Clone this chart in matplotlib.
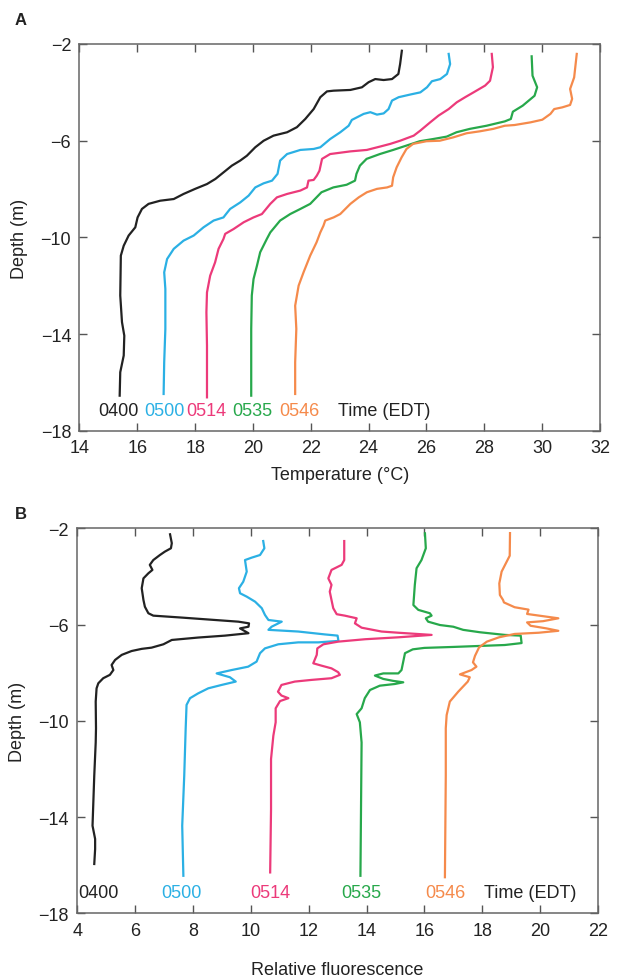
import matplotlib
matplotlib.use("Agg")
import matplotlib.pyplot as plt

plt.rcParams['font.family'] = ['Liberation Sans', 'DejaVu Sans']

times = ['0400', '0500', '0514', '0535', '0546']
colors = ['#222222', '#2bb0e4', '#ec3a7a', '#27a84b', '#f58a4b']

# ---- panel A: temperature profiles (depth m, temp C)
temp_depth = [
    [-2.28, -2.83, -3.24, -3.45, -3.49, -3.45, -3.58, -3.79, -3.90, -3.93, -3.96, -4.20,
     -4.69, -5.10, -5.44, -5.65, -5.79, -6.00, -6.27, -6.62, -6.82, -7.03, -7.31, -7.58,
     -7.79, -7.99, -8.20, -8.41, -8.48, -8.61, -8.82, -9.17, -9.58, -9.92, -10.34, -10.75,
     -12.4, -13.5, -14.06, -14.88, -15.57, -16.54],
    [-2.41, -2.83, -3.24, -3.45, -3.54, -3.79, -4.0, -4.09, -4.20, -4.34, -4.69, -4.87,
     -4.92, -4.82, -4.89, -5.03, -5.14, -5.38, -5.65, -5.93, -6.27, -6.34, -6.38, -6.55,
     -6.82, -7.37, -7.65, -7.76, -7.93, -8.27, -8.55, -8.82, -9.03, -9.17, -9.30, -9.58,
     -9.92, -10.13, -10.47, -10.89, -11.44, -12.13, -13.78, -15.16, -16.47],
    [-2.41, -2.96, -3.52, -3.72, -4.0, -4.2, -4.41, -4.69, -4.96, -5.24, -5.58, -5.79,
     -6.0, -6.13, -6.24, -6.38, -6.44, -6.55, -6.75, -7.24, -7.44, -7.62, -7.65, -7.93,
     -8.06, -8.2, -8.34, -8.61, -9.03, -9.17, -9.37, -9.65, -9.85, -10.06, -10.47, -11.03,
     -11.58, -12.27, -13.09, -14.47, -16.61],
    [-2.51, -3.31, -3.79, -4.14, -4.55, -4.8, -5.1, -5.2, -5.38, -5.51, -5.65, -5.83,
     -5.93, -6.02, -6.2, -6.38, -6.55, -6.75, -7.03, -7.37, -7.65, -7.82, -7.93, -8.13,
     -8.61, -8.82, -9.03, -9.3, -9.79, -10.06, -10.61, -11.16, -11.72, -12.4, -13.78, -16.54],
    [-2.41, -3.38, -3.86, -4.27, -4.52, -4.62, -4.69, -4.89, -5.13, -5.24, -5.35, -5.38,
     -5.51, -5.61, -5.69, -5.86, -6.0, -6.02, -6.13, -6.34, -6.69, -7.1, -7.51, -7.86,
     -7.93, -7.99, -8.13, -8.34, -8.61, -9.03, -9.17, -9.3, -9.51, -9.79, -10.2, -10.75,
     -11.44, -11.99, -12.82, -13.78, -15.16, -16.47],
]
temp_vals = [
    [25.15, 25.09, 25.03, 24.81, 24.52, 24.23, 24.0, 23.77, 23.37, 22.79, 22.56, 22.33,
     22.1, 21.81, 21.52, 21.18, 20.71, 20.37, 20.08, 19.79, 19.56, 19.27, 18.98, 18.7,
     18.41, 18.0, 17.6, 17.26, 16.79, 16.39, 16.16, 16.01, 15.93, 15.70, 15.53, 15.43,
     15.41, 15.47, 15.55, 15.53, 15.41, 15.39],
    [26.77, 26.82, 26.71, 26.48, 26.19, 26.02, 25.79, 25.44, 25.04, 24.81, 24.69, 24.52,
     24.29, 24.06, 23.83, 23.6, 23.42, 23.31, 23.02, 22.67, 22.33, 22.1, 21.64, 21.18,
     20.94, 20.85, 20.66, 20.37, 20.08, 19.85, 19.56, 19.21, 19.07, 18.98, 18.64, 18.29,
     17.95, 17.6, 17.26, 17.03, 16.93, 16.97, 16.97, 16.93, 16.91],
    [28.26, 28.3, 28.2, 28.03, 27.63, 27.34, 27.05, 26.77, 26.42, 26.13, 25.79, 25.56,
     25.09, 24.75, 24.4, 23.94, 23.37, 22.67, 22.39, 22.3, 22.21, 22.1, 21.92, 21.87,
     21.64, 21.18, 20.83, 20.6, 20.31, 20.02, 19.68, 19.33, 19.04, 18.98, 18.81, 18.69,
     18.52, 18.41, 18.39, 18.41, 18.41],
    [29.64, 29.67, 29.83, 29.74, 29.33, 28.99, 28.92, 28.71, 28.08, 27.5, 27.04, 26.7,
     26.23, 25.77, 25.31, 24.85, 24.39, 23.93, 23.7, 23.58, 23.53, 23.24, 22.78, 22.37,
     21.98, 21.64, 21.29, 20.94, 20.6, 20.48, 20.25, 20.14, 20.02, 19.96, 19.94, 19.94],
    [31.2, 31.11, 30.97, 31.04, 30.97, 30.7, 30.42, 30.29, 30.01, 29.6, 29.05, 28.71,
     28.31, 27.85, 27.39, 26.93, 26.46, 26.0, 25.54, 25.31, 25.14, 24.97, 24.85, 24.81,
     24.64, 24.29, 23.94, 23.66, 23.37, 23.02, 22.79, 22.5, 22.44, 22.33, 22.2, 21.98,
     21.75, 21.58, 21.46, 21.5, 21.46, 21.46],
]
temp_label_x = [15.36, 16.94, 18.4, 19.99, 21.59]

# ---- panel B: fluorescence profiles
fl_depth = [
    [-2.25, -2.62, -2.83, -2.97, -3.11, -3.32, -3.52, -3.73, -3.87, -4.08, -4.49, -4.98,
     -5.26, -5.53, -5.63, -5.71, -5.81, -5.88, -5.95, -6.09, -6.16, -6.36, -6.46, -6.54,
     -6.64, -6.82, -6.96, -7.01, -7.10, -7.26, -7.47, -7.68, -7.89, -8.09, -8.23, -8.44,
     -8.65, -9.2, -10.31, -10.9, -12.28, -14.36, -14.91, -15.33, -15.95],
    [-2.53, -2.83, -3.11, -3.22, -3.32, -3.8, -4.22, -4.49, -4.7, -4.84, -5.05, -5.32,
     -5.6, -5.81, -5.88, -6.09, -6.22, -6.29, -6.41, -6.46, -6.68, -6.74, -6.74, -6.82,
     -6.99, -7.19, -7.54, -7.75, -7.89, -8.03, -8.19, -8.37, -8.51, -8.65, -8.86, -9.06,
     -9.34, -10.31, -12.28, -14.36, -16.44],
    [-2.53, -3.32, -3.52, -3.73, -4.08, -4.35, -4.63, -4.98, -5.32, -5.57, -5.63, -5.74,
     -5.95, -6.13, -6.29, -6.34, -6.43, -6.53, -6.61, -6.71, -6.82, -6.99, -7.26, -7.61,
     -7.71, -7.82, -7.98, -8.09, -8.23, -8.3, -8.37, -8.51, -8.79, -8.95, -9.06, -9.18,
     -9.48, -10.06, -10.62, -11.59, -13.67, -16.3],
    [-2.21, -2.83, -3.32, -3.66, -4.35, -5.19, -5.39, -5.53, -5.63, -5.74, -5.88, -6.02,
     -6.09, -6.22, -6.32, -6.43, -6.46, -6.77, -6.85, -6.93, -6.97, -7.03, -7.19, -7.54,
     -7.89, -8.03, -8.03, -8.12, -8.26, -8.34, -8.4, -8.47, -8.54, -8.72, -9.06, -9.48,
     -9.72, -10.06, -10.9, -13.67, -16.44],
    [-2.2, -3.14, -3.8, -4.29, -4.77, -4.98, -5.08, -5.28, -5.38, -5.56, -5.66, -5.74,
     -5.86, -5.91, -6.05, -6.16, -6.26, -6.34, -6.39, -6.53, -6.71, -6.95, -7.3, -7.57,
     -7.75, -7.89, -8.07, -8.19, -8.37, -8.79, -9.2, -9.76, -10.31, -12.28, -16.5],
]
fl_vals = [
    [7.21, 7.27, 7.24, 7.03, 6.86, 6.63, 6.51, 6.6, 6.46, 6.29, 6.23, 6.29,
     6.34, 6.46, 6.63, 7.61, 8.76, 9.57, 9.94, 9.92, 9.63, 9.92, 9.11, 8.18,
     7.27, 6.98, 6.57, 6.23, 5.88, 5.54, 5.31, 5.19, 5.25, 5.13, 4.9, 4.73,
     4.67, 4.64, 4.65, 4.64, 4.59, 4.53, 4.62, 4.62, 4.59],
    [10.43, 10.47, 10.32, 10.03, 9.8, 9.86, 9.74, 9.59, 9.63, 9.86, 10.15, 10.38,
     10.49, 10.61, 11.07, 10.72, 10.61, 11.64, 12.56, 13.0, 13.03, 12.33, 11.64, 10.95,
     10.49, 10.32, 10.2, 9.91, 9.34, 8.82, 9.28, 9.48, 8.99, 8.53, 8.18, 7.9,
     7.78, 7.75, 7.7, 7.63, 7.67],
    [13.23, 13.23, 13.14, 12.79, 12.68, 12.79, 12.73, 12.79, 12.85, 12.97, 13.25, 13.66,
     13.6, 13.83, 14.52, 15.1, 16.25, 15.1, 13.95, 13.02, 12.51, 12.3, 12.28, 12.16,
     12.45, 12.79, 13.02, 13.08, 12.79, 12.1, 11.52, 11.06, 10.94, 11.06, 11.3, 11.01,
     10.86, 10.86, 10.78, 10.7, 10.7, 10.67],
    [16.02, 16.05, 15.9, 15.73, 15.67, 15.62, 15.79, 16.19, 16.25, 16.05, 16.13, 16.54,
     17.0, 17.34, 17.92, 18.78, 19.33, 19.36, 18.78, 17.0, 16.0, 15.6, 15.33, 15.27,
     15.21, 15.1, 14.58, 14.29, 14.58, 14.92, 15.27, 14.98, 14.46, 14.12, 13.94, 13.83,
     13.66, 13.77, 13.83, 13.81, 13.79],
    [18.96, 18.95, 18.67, 18.59, 18.61, 18.72, 18.75, 19.12, 19.6, 19.55, 20.15, 20.63,
     20.1, 19.55, 19.67, 20.22, 20.63, 19.95, 19.12, 18.58, 18.16, 17.89, 17.75, 17.68,
     17.8, 17.63, 17.23, 17.57, 17.5, 17.17, 16.88, 16.77, 16.74, 16.74, 16.71],
]
fl_label_x = [4.75, 7.6, 10.68, 13.81, 16.73]

fs = 13
fig = plt.figure(figsize=(6.21, 9.78), dpi=100)
ax1 = fig.add_axes([0.128, 0.5583, 0.838, 0.3957])
ax2 = fig.add_axes([0.1243, 0.0651, 0.8386, 0.3937])

for d, v, c in zip(temp_depth, temp_vals, colors):
    ax1.plot(v, d, color=c, lw=1.6, solid_joinstyle='round')
for d, v, c in zip(fl_depth, fl_vals, colors):
    ax2.plot(v, d, color=c, lw=1.6, solid_joinstyle='round')

for t, x, c in zip(times, temp_label_x, colors):
    ax1.text(x, -17.16, t, color=c, fontsize=fs, ha='center', va='center')
ax1.text(24.53, -17.16, 'Time (EDT)', color='#222222', fontsize=fs, ha='center', va='center')
for t, x, c in zip(times, fl_label_x, colors):
    ax2.text(x, -17.12, t, color=c, fontsize=fs, ha='center', va='center')
ax2.text(19.67, -17.12, 'Time (EDT)', color='#222222', fontsize=fs, ha='center', va='center')

ax1.set_xlim(14, 32)
ax1.set_xticks(range(14, 33, 2))
ax2.set_xlim(4, 22)
ax2.set_xticks(range(4, 23, 2))

for ax in (ax1, ax2):
    ax.set_ylim(-18, -2)
    ax.set_yticks([-2, -6, -10, -14, -18])
    ax.tick_params(direction='in', top=True, right=True, length=6, width=1,
                   labelsize=fs, colors='#555555', labelcolor='#222222', pad=6)
    for s in ax.spines.values():
        s.set_color('#666666')
        s.set_linewidth(1.1)
    ax.set_ylabel('Depth (m)', fontsize=fs, color='#222222')
    ax.yaxis.set_label_coords(-0.099, 0.5)

ax1.set_xlabel('Temperature (\u00b0C)', fontsize=fs, color='#222222')
ax1.xaxis.set_label_coords(0.5, -0.09)
ax2.set_xlabel('Relative fluorescence', fontsize=fs, color='#222222')
ax2.xaxis.set_label_coords(0.5, -0.123)

fig.text(0.024, 1 - 13 / 978, 'A', fontsize=12, fontweight='bold', va='top', color='#222222')
fig.text(0.024, 1 - 507 / 978, 'B', fontsize=12, fontweight='bold', va='top', color='#222222')

fig.savefig('out.png', dpi=100)
